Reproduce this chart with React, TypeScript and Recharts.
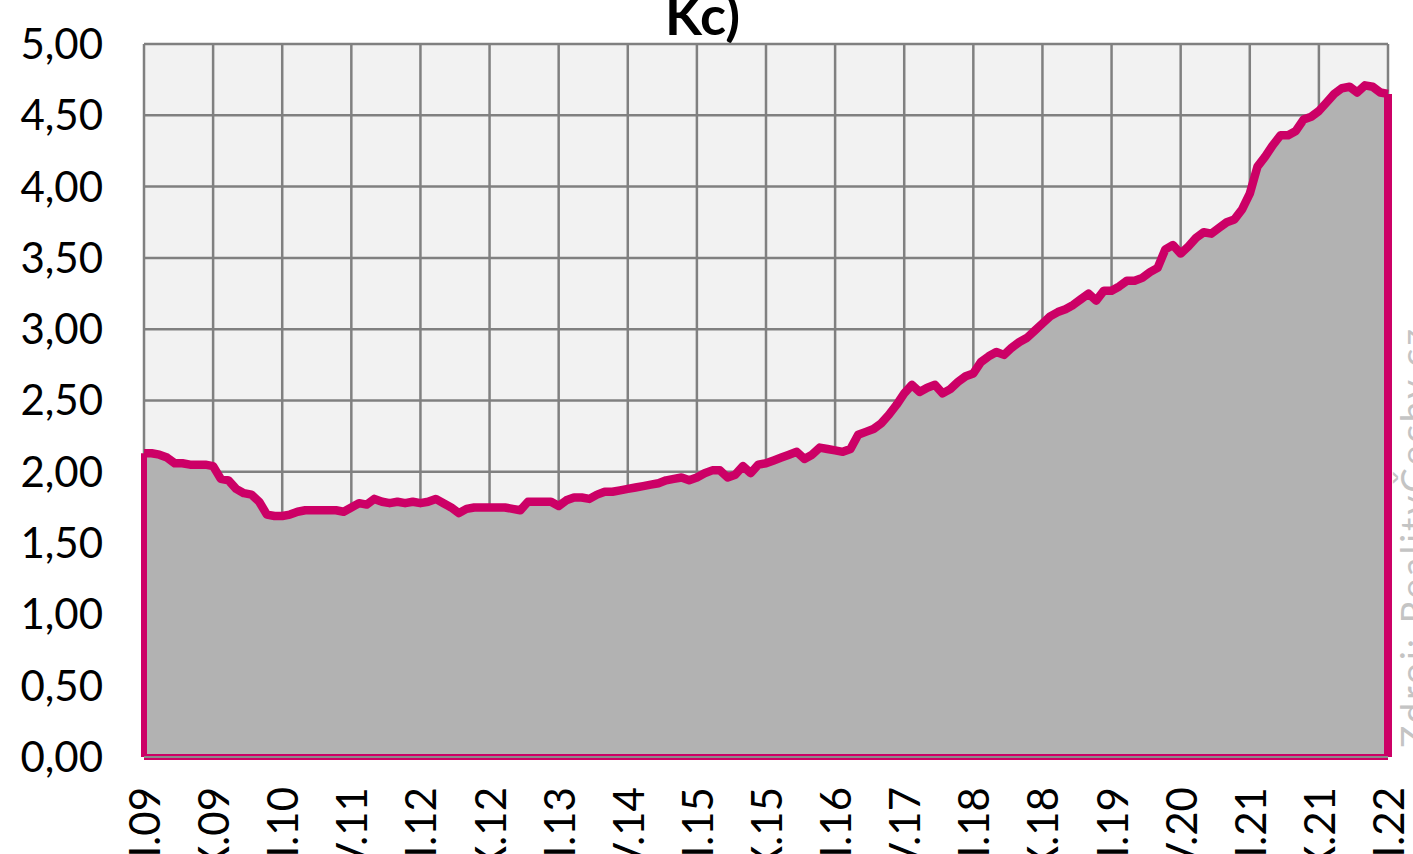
import {
  AreaChart, Area, XAxis, YAxis, CartesianGrid, ReferenceLine,
} from 'recharts'

// měsíční hodnoty (tis. Kč) podle let
const v2009 = [2.13, 2.13, 2.12, 2.10, 2.06, 2.06, 2.05, 2.05, 2.05, 2.04, 1.95, 1.94]
const v2010 = [1.88, 1.85, 1.84, 1.79, 1.70, 1.69, 1.69, 1.70, 1.72, 1.73, 1.73, 1.73]
const v2011 = [1.73, 1.73, 1.72, 1.75, 1.78, 1.77, 1.81, 1.79, 1.78, 1.79, 1.78, 1.79]
const v2012 = [1.78, 1.79, 1.81, 1.78, 1.75, 1.71, 1.74, 1.75, 1.75, 1.75, 1.75, 1.75]
const v2013 = [1.74, 1.73, 1.79, 1.79, 1.79, 1.79, 1.76, 1.80, 1.82, 1.82, 1.81, 1.84]
const v2014 = [1.86, 1.86, 1.87, 1.88, 1.89, 1.90, 1.91, 1.92, 1.94, 1.95, 1.96, 1.94]
const v2015 = [1.96, 1.99, 2.01, 2.01, 1.96, 1.98, 2.04, 1.99, 2.05, 2.06, 2.08, 2.10]
const v2016 = [2.12, 2.14, 2.09, 2.12, 2.17, 2.16, 2.15, 2.14, 2.16, 2.26, 2.28, 2.30]
const v2017 = [2.34, 2.40, 2.47, 2.55, 2.61, 2.56, 2.59, 2.61, 2.55, 2.58, 2.63, 2.67]
const v2018 = [2.69, 2.77, 2.81, 2.84, 2.82, 2.87, 2.91, 2.94, 2.99, 3.04, 3.09, 3.12]
const v2019 = [3.14, 3.17, 3.21, 3.25, 3.20, 3.27, 3.27, 3.30, 3.34, 3.34, 3.36, 3.40]
const v2020 = [3.43, 3.56, 3.59, 3.53, 3.58, 3.64, 3.68, 3.67, 3.71, 3.75, 3.77, 3.84]
const v2021 = [3.95, 4.14, 4.21, 4.29, 4.36, 4.36, 4.39, 4.47, 4.49, 4.53, 4.59, 4.65]
const v2022 = [4.69, 4.70, 4.66, 4.71, 4.70, 4.66, 4.65]

const YEARS = ['09', '10', '11', '12', '13', '14', '15', '16', '17', '18', '19', '20', '21', '22']
const MONTHS = ['I', 'II', 'III', 'IV', 'V', 'VI', 'VII', 'VIII', 'IX', 'X', 'XI', 'XII']
const Y_TICKS = [0, 0.5, 1, 1.5, 2, 2.5, 3, 3.5, 4, 4.5, 5]

const byYear = [v2009, v2010, v2011, v2012, v2013, v2014, v2015, v2016, v2017, v2018, v2019, v2020, v2021, v2022]
const data = byYear.flatMap((vals, yi) =>
  vals.map((v, mi) => ({ label: `${MONTHS[mi]}.${YEARS[yi]}`, v })),
)
const first = data[0]
const last = data[data.length - 1]

const PINK = '#cc0066'
const FONT = 'Lato, "Liberation Sans", sans-serif'

// eslint-disable-next-line @typescript-eslint/no-explicit-any
const XTick = ({ x, y, payload }: any) => (
  <text
    x={x}
    y={y}
    transform={`rotate(-90 ${x} ${y})`}
    textAnchor="end"
    dominantBaseline="central"
    fontSize={42}
    fontFamily={FONT}
    fill="#000"
  >
    {payload.value}
  </text>
)

export default function App() {
  return (
    <div style={{ position: 'absolute', left: 0, top: 0, width: 1413, height: 854, overflow: 'hidden', background: '#fff' }}>
      <div
        style={{
          position: 'absolute', left: 0, width: 1413, top: -14, textAlign: 'center',
          fontFamily: FONT, fontWeight: 700, fontSize: 54, lineHeight: '58px',
        }}
      >
        <span style={{ position: 'relative', left: -4 }}>Kc)</span>
      </div>

      <AreaChart width={1413} height={854} data={data} margin={{ top: 44, right: 25, bottom: 0, left: 0 }}>
        <CartesianGrid stroke="#808080" strokeWidth={2.5} fill="#f2f2f2" />
        <XAxis
          dataKey="label"
          interval={8}
          height={97}
          tick={<XTick />}
          tickSize={6}
          tickMargin={24}
          tickLine={false}
          axisLine={{ stroke: '#8a8a8a', strokeWidth: 2 }}
        />
        <YAxis
          domain={[0, 5]}
          ticks={Y_TICKS}
          width={144}
          axisLine={false}
          tickLine={false}
          tickSize={6}
          tickMargin={35}
          tickFormatter={(v) => Number(v).toFixed(2).replace('.', ',')}
          tick={{ fontSize: 42, fill: '#000', fontFamily: FONT }}
        />
        <Area
          type="linear"
          dataKey="v"
          stroke={PINK}
          strokeWidth={8.5}
          strokeLinejoin="round"
          fill="#b2b2b2"
          fillOpacity={1}
          dot={false}
          activeDot={false}
          isAnimationActive={false}
        />
        <ReferenceLine segment={[{ x: first.label, y: 0 }, { x: first.label, y: first.v }]} stroke={PINK} strokeWidth={6} ifOverflow="visible" />
        <ReferenceLine segment={[{ x: first.label, y: 0 }, { x: last.label, y: 0 }]} stroke={PINK} strokeWidth={6} ifOverflow="visible" />
        <ReferenceLine segment={[{ x: last.label, y: 0 }, { x: last.label, y: last.v }]} stroke={PINK} strokeWidth={8} ifOverflow="visible" />
      </AreaChart>

      <div
        style={{
          position: 'absolute', left: 1395, top: 748, transformOrigin: 'left top', transform: 'rotate(-90deg)',
          whiteSpace: 'nowrap', fontFamily: FONT, fontSize: 37, lineHeight: '36px', letterSpacing: 3, color: '#c4c4c4',
        }}
      >
        Zdroj: RealityČechy.cz
      </div>
    </div>
  )
}
